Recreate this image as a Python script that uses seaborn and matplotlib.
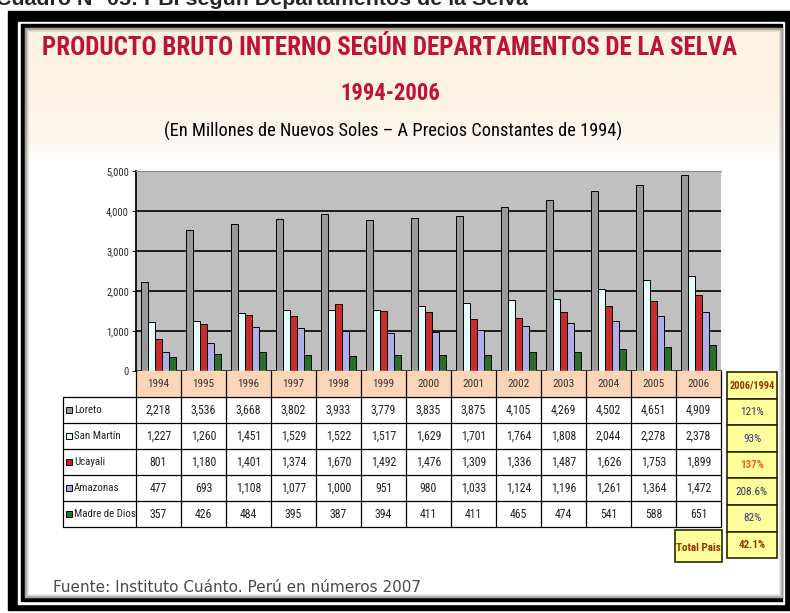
import numpy as np
import pandas as pd
import seaborn as sns
import matplotlib.pyplot as plt
from matplotlib.patches import Rectangle
from matplotlib import font_manager
from matplotlib.font_manager import FontProperties

years = ["1994", "1995", "1996", "1997", "1998", "1999", "2000",
         "2001", "2002", "2003", "2004", "2005", "2006"]
departamentos = ["Loreto", "San Martín", "Ucayali", "Amazonas", "Madre de Dios"]
loreto = [2218, 3536, 3668, 3802, 3933, 3779, 3835, 3875, 4105, 4269, 4502, 4651, 4909]
san_martin = [1227, 1260, 1451, 1529, 1522, 1517, 1629, 1701, 1764, 1808, 2044, 2278, 2378]
ucayali = [801, 1180, 1401, 1374, 1670, 1492, 1476, 1309, 1336, 1487, 1626, 1753, 1899]
amazonas = [477, 693, 1108, 1077, 1000, 951, 980, 1033, 1124, 1196, 1261, 1364, 1472]
madre_de_dios = [357, 426, 484, 395, 387, 394, 411, 411, 465, 474, 541, 588, 651]
variacion = ["121%", "93%", "137%", "208.6%", "82%"]
total_pais = "42.1%"

series = [loreto, san_martin, ucayali, amazonas, madre_de_dios]
colores = ["#9a9a9a", "#e4ffff", "#e01414", "#a4a4f2", "#1c7c1c"]
col_var = ["#333366", "#333399", "#f06010", "#333366", "#333399"]

rows = []
for dep, vals in zip(departamentos, series):
    for y, v in zip(years, vals):
        rows.append({"Año": y, "PBI": v, "Departamento": dep})
df = pd.DataFrame(rows)

sns.set_theme(style="white")
plt.rcParams["font.family"] = ["Liberation Sans", "DejaVu Sans"]


def is_bold(f):
    return f.weight in ("bold", "semibold", "demibold") or (isinstance(f.weight, int) and f.weight >= 600)


def is_regular(f):
    return f.weight in ("normal", "regular", "book", "medium") or f.weight in (400, 500)


def condensed(bold=False):
    # busca una fuente angosta instalada (sin cursiva), si no hay usa Liberation Sans
    cands = ("Liberation Sans Narrow", "Roboto Condensed", "Open Sans Condensed",
             "DejaVu Sans Condensed")
    for name in cands:
        for f in font_manager.fontManager.ttflist:
            if f.name == name and f.style == "normal" and "Italic" not in f.fname:
                if (bold and is_bold(f)) or (not bold and is_regular(f)):
                    return FontProperties(fname=f.fname)
    for f in font_manager.fontManager.ttflist:
        if f.name == "DejaVu Sans" and "condensed" in str(f.stretch) and f.style == "normal" \
                and (("Bold" in f.fname) == bold):
            return FontProperties(fname=f.fname)
    return FontProperties(family="Liberation Sans", weight="bold" if bold else "normal")


fp = condensed()
fpb = condensed(True)

W, H = 790, 613
fig = plt.figure(figsize=(W / 100, H / 100), dpi=100)
renderer = fig.canvas.get_renderer()


def fit(t, target):
    w = t.get_window_extent(renderer).width
    t.set_fontsize(t.get_fontsize() * target / w)


# fondo en pixeles
bg = fig.add_axes([0, 0, 1, 1], zorder=0)
bg.set_xlim(0, W)
bg.set_ylim(H, 0)
bg.axis("off")
bg.add_patch(Rectangle((8, 11), 800, 599, color="black"))
bg.add_patch(Rectangle((18, 22), 766, 582, color="white"))
bg.add_patch(Rectangle((21, 24), 761, 577, color="black"))
bg.add_patch(Rectangle((25, 28), 757, 569, color="white"))
grad = np.linspace(0, 1, 100)[:, None]
cream = np.array([252, 243, 226]) / 255
img = cream[None, None, :] * (1 - grad[..., None] ** 4) + np.ones(3) * grad[..., None] ** 4
bg.imshow(img, extent=[25, 782, 162, 28], aspect="auto", zorder=1)
# sombra interior
for k, a in enumerate([0.35, 0.22, 0.12, 0.06]):
    bg.add_patch(Rectangle((25 + k, 28 + k), 757 - 2 * k, 569 - 2 * k, fill=False,
                           edgecolor="black", alpha=a, lw=1, zorder=2))

t0 = bg.text(-4, 5, "Cuadro N° 05: PBI según Departamentos de la Selva", fontsize=13,
             fontweight="bold", family="Liberation Sans", va="baseline", ha="left")
fit(t0, 530)
t1 = bg.text(390, 48, "PRODUCTO BRUTO INTERNO SEGÚN DEPARTAMENTOS DE LA SELVA",
             fontproperties=fpb, fontsize=18, color="#bf1238", ha="center", va="center",
             zorder=3)
fit(t1, 694)
t2 = bg.text(390, 94, "1994-2006", fontproperties=fpb, fontsize=20, color="#bf1238",
             ha="center", va="center", zorder=3)
fit(t2, 100)
t3 = bg.text(393, 131, "(En Millones de Nuevos Soles – A Precios Constantes de 1994)",
             fontproperties=fp, fontsize=13.5, color="black", ha="center", va="center",
             zorder=3)
fit(t3, 457)
bg.text(53, 588, "Fuente: Instituto Cuánto. Perú en números 2007", fontsize=11,
        family="DejaVu Sans", color="#4a4a4a", ha="left", va="center", zorder=3)

# grafico de barras
ax = fig.add_axes([136 / W, 1 - 371 / H, 585 / W, 200 / H], zorder=2)
sns.barplot(data=df, x="Año", y="PBI", hue="Departamento", hue_order=departamentos,
            palette=colores, width=0.78, gap=0, edgecolor="black", linewidth=0.7,
            legend=False, ax=ax, zorder=3)
ax.set_facecolor("#c0c0c0")
ax.set_xlim(-0.5, len(years) - 0.5)
ax.set_ylim(0, 5000)
yt = list(range(0, 5001, 1000))
ax.set_yticks(yt)
ax.set_yticklabels([f"{v:,}" for v in yt], fontproperties=fp, fontsize=7.5)
for v in yt[1:-1]:
    ax.axhline(v, color="black", lw=1.2, zorder=1)
ax.set_xticks([])
ax.set_xlabel("")
ax.set_ylabel("")
ax.tick_params(axis="y", length=3, width=0.8, pad=2, left=True)
ax.spines["top"].set_color("#8a8a8a")
ax.spines["top"].set_linewidth(0.8)
ax.spines["right"].set_visible(False)
ax.spines["left"].set_color("black")
ax.spines["bottom"].set_color("black")

# tabla de datos
tb = fig.add_axes([0, 0, 1, 1], zorder=3)
tb.set_xlim(0, W)
tb.set_ylim(H, 0)
tb.axis("off")
x0, cw = 136, 585 / len(years)
ytop, hh, rh = 371, 26, 26
tb.add_patch(Rectangle((x0, ytop), 585, hh, color="#fbd5b5", zorder=1))
ybot = ytop + hh + rh * len(departamentos)
for k in range(len(years) + 1):
    tb.plot([x0 + k * cw] * 2, [ytop, ybot], color="black", lw=0.9, zorder=2)
tb.plot([63, 63], [ytop + hh, ybot], color="black", lw=0.9)
for r in range(len(departamentos) + 1):
    yy = ytop + hh + r * rh
    tb.plot([63, x0 + 585], [yy, yy], color="black", lw=0.9)
for k, y in enumerate(years):
    tb.text(x0 + (k + 0.5) * cw, ytop + hh / 2, y, fontproperties=fp, fontsize=8,
            color="#333333", ha="center", va="center")
for r, (dep, vals, c) in enumerate(zip(departamentos, series, colores)):
    yc = ytop + hh + (r + 0.5) * rh
    tb.add_patch(Rectangle((66, yc - 3), 6, 6, facecolor=c, edgecolor="black", lw=0.7))
    tb.text(74, yc, dep, fontproperties=fp, fontsize=7.8, color="#222222",
            ha="left", va="center")
    for k, v in enumerate(vals):
        tb.text(x0 + (k + 0.5) * cw, yc, f"{v:,}", fontproperties=fp, fontsize=8.5,
                color="#222222", ha="center", va="center")

# columna 2006/1994
vx, vw, vy, vh = 727, 50, 372, 26.6
yel = "#ffff9c"
tb.add_patch(Rectangle((vx, vy), vw, vh, facecolor=yel, edgecolor="#2a2a00", lw=1.2))
tb.text(vx + vw / 2, vy + vh / 2, "2006/1994", fontproperties=fpb, fontsize=7.5,
        color="#993300", ha="center", va="center")
for r, (t, c) in enumerate(zip(variacion + [total_pais], col_var + ["#993300"])):
    yy = vy + (r + 1) * vh
    tb.add_patch(Rectangle((vx, yy), vw, vh, facecolor=yel, edgecolor="#2a2a00", lw=1.2))
    tb.text(vx + vw / 2, yy + vh / 2, t, fontsize=8, color=c, ha="center", va="center",
            fontproperties=fpb if c in ("#f06010", "#993300") else fp)
tb.add_patch(Rectangle((675, 530), 47, 32, facecolor=yel, edgecolor="#2a2a00", lw=1.2))
tb.text(698.5, 548, "Total Pais", fontproperties=fpb, fontsize=8, color="#993300",
        ha="center", va="center")

fig.savefig("out.png", dpi=100)
